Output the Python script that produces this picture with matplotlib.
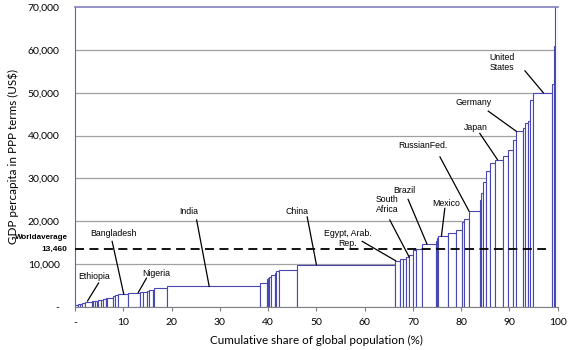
import matplotlib
matplotlib.use('Agg')
import matplotlib.pyplot as plt
from matplotlib.patches import Rectangle

# population share (%) of each country block, sorted by income, and GDP per capita (PPP, US$)
pop_share = [0.6, 0.4, 0.5, 0.6, 1.4, 0.3, 0.3, 0.4, 0.3, 0.5, 0.6, 0.5, 0.3, 1.1,
             0.4, 0.8, 2.0, 2.5, 0.5, 0.9, 0.4, 0.8, 0.2, 2.7, 19.3,
             1.5, 0.2, 0.2, 0.3, 0.9, 0.3, 0.6, 3.7, 20.3,
             1.0, 0.7, 0.5, 0.7, 0.8, 0.7, 1.1, 2.9, 0.2, 0.3, 2.0, 1.7, 1.2,
             0.5, 1.0, 2.25, 0.15, 0.5, 0.7, 0.7, 1.1, 1.7, 1.0, 1.0, 0.7,
             1.4, 0.5, 0.5, 0.4, 0.6, 4.1, 0.3, 0.2, 0.6]
gdp_pc = [500, 650, 800, 950, 1250, 1350, 1400, 1450, 1500, 1550, 1650, 1800, 2100, 2200,
          2600, 2750, 3000, 3300, 3500, 3600, 3800, 3950, 4000, 4500, 4800,
          5700, 6500, 6800, 7100, 7500, 8000, 8400, 8600, 9900,
          10800, 11100, 11300, 11600, 12100, 13300, 13500, 14700, 15500, 16000, 16500, 17300, 17900,
          19900, 20500, 22400, 25000, 26500, 29100, 31800, 33500, 34400, 35300, 36600, 38900,
          41000, 41800, 43000, 43400, 48300, 50000, 52000, 61000, 75000]

world_avg = 13460

# label, text position, line start and end
labels = ['Ethiopia', 'Bangladesh', 'Nigeria', 'India', 'China', 'Egypt, Arab.\nRep.',
          'South\nAfrica', 'Brazil', 'Mexico', 'RussianFed.', 'Japan', 'Germany', 'United\nStates']
text_xy = [(3.9, 7100), (7.9, 17200), (16.8, 7850), (23.5, 22300), (45.9, 22200), (56.5, 15900),
           (64.6, 24000), (68.3, 27100), (76.9, 24200), (72.1, 37600), (83.0, 41800),
           (82.6, 47600), (88.4, 57100)]
line_from = [(4.9, 5600), (7.7, 15300), (14.8, 6700), (25.2, 20300), (48.1, 21000), (59.5, 15300),
             (65.2, 20300), (69.0, 25100), (76.6, 23000), (75.6, 35000), (83.85, 40500),
             (85.6, 45700), (93.2, 55100)]
line_to = [(2.6, 1400), (10.1, 3000), (13.1, 3350), (27.8, 4800), (50.0, 9900), (66.4, 10800),
           (69.2, 11700), (72.9, 14700), (75.9, 16500), (81.6, 22400), (87.5, 34400),
           (91.4, 41000), (97.0, 50000)]

fig = plt.figure(figsize=(5.68, 3.5), dpi=100)
ax = fig.add_axes([0.132, 0.123, 0.85, 0.857])

tick_font = ['Lato', 'DejaVu Sans']
note_font = ['Liberation Sans Narrow', 'Liberation Sans', 'DejaVu Sans']

# grid
for yv in range(10000, 70000, 10000):
    ax.axhline(yv, color='#a0a0a0', lw=0.9, zorder=1)

# bars, one per country block
left = 0.0
for w, h in zip(pop_share, gdp_pc):
    ax.add_patch(Rectangle((left, 0), w, h, facecolor='white', edgecolor='#4848b4',
                           lw=0.8, zorder=2))
    left += w

ax.plot([0, 97.5], [world_avg, world_avg], color='black', lw=1.3, ls=(0, (5, 3)), zorder=4)

ax.text(-1.5, 16200, 'Worldaverage', ha='right', va='center', fontsize=5.8, fontweight='bold',
        family=note_font, clip_on=False)
ax.text(-1.5, 13500, '{:,}'.format(world_avg), ha='right', va='center', fontsize=6,
        fontweight='bold', family=note_font, clip_on=False)

for lab, txy, p0, p1 in zip(labels, text_xy, line_from, line_to):
    ax.text(txy[0], txy[1], lab, ha='center', va='center', fontsize=6.3, family=note_font,
            linespacing=1.15, zorder=5)
    ax.plot([p0[0], p1[0]], [p0[1], p1[1]], color='black', lw=0.9, zorder=5)

ax.set_xlim(0, 100)
ax.set_ylim(0, 70000)
ax.set_xticks(range(0, 101, 10))
ax.set_xticklabels(['-'] + [str(v) for v in range(10, 101, 10)], family=tick_font, fontsize=7.5)
ax.set_yticks(range(0, 70001, 10000))
ax.set_yticklabels(['-'] + ['{:,}'.format(v) for v in range(10000, 70001, 10000)],
                   family=tick_font, fontsize=7.5)
ax.tick_params(axis='x', length=3, color='#808080', pad=5)
ax.tick_params(axis='y', length=0, pad=11)

ax.spines['right'].set_visible(False)
ax.spines['top'].set_color('#8080c0')
ax.spines['top'].set_linewidth(1.2)
ax.spines['left'].set_color('#6060b0')
ax.spines['bottom'].set_color('#808080')

ax.set_xlabel('Cumulative share of global population (%)', family=tick_font, fontsize=8.4,
              labelpad=6)
ax.set_ylabel('GDP percapita in PPP terms (US$)', family=tick_font, fontsize=8.4, labelpad=6)

fig.savefig('out.png', dpi=100)
